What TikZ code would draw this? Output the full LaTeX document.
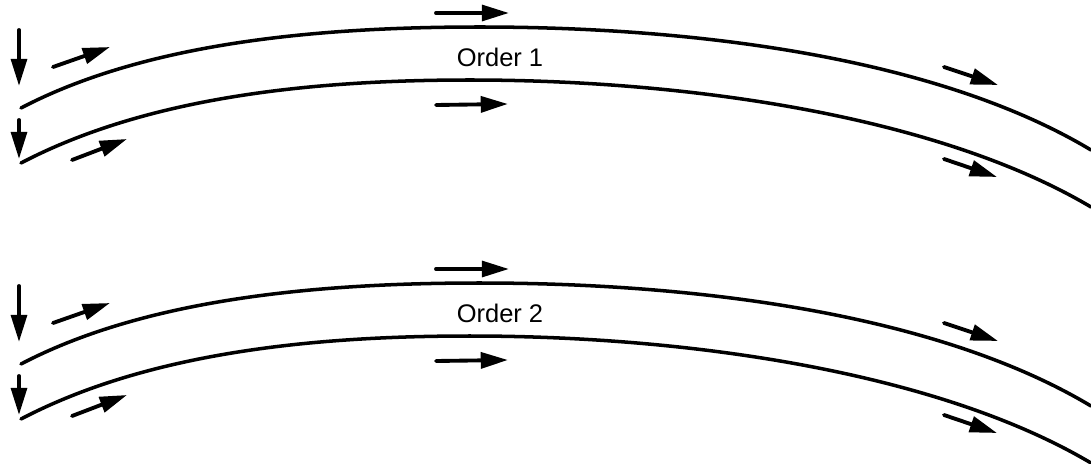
\documentclass[tikz,border=0pt]{standalone}
\usepackage{fontspec}
\setmainfont{Liberation Sans}
\usetikzlibrary{arrows.meta}
\begin{document}
\begin{tikzpicture}[x=0.02cm,y=-0.02cm,
  band/.style={line width=2pt, line cap=round},
  flow/.style={line width=2.2pt, line cap=round, -{Triangle[length=15.5pt,width=9pt]}},
  lbl/.style={font=\fontsize{14.5}{17}\selectfont, inner sep=0pt}]
\useasboundingbox (0,0) rectangle (1091,463);
\foreach \k/\dy in {1/0,2/256}{
\begin{scope}[yshift=-\dy*0.02cm]
  % band edges
  \draw[band] (21,108) .. controls (151,40) and (330,27) .. (480,27)
                       .. controls (705,27) and (941,60) .. (1091,150);
  \draw[band] (21,163) .. controls (151,95) and (320,80) .. (470,80)
                       .. controls (695,80) and (941,118) .. (1091,207);
  % arrows
  \coordinate (a1s\k) at (19,30);  \coordinate (a1e\k) at (19,86);
  \coordinate (a2s\k) at (19,120); \coordinate (a2e\k) at (19,159);
  \coordinate (a3s\k) at (53,67);  \coordinate (a3e\k) at (110,47);
  \coordinate (a4s\k) at (72,160); \coordinate (a4e\k) at (127,139);
  \coordinate (a5s\k) at (436,13); \coordinate (a5e\k) at (509,13);
  \coordinate (a6s\k) at (436,105);\coordinate (a6e\k) at (508,104);
  \coordinate (a7s\k) at (944,67); \coordinate (a7e\k) at (998,85);
  \coordinate (a8s\k) at (944,159);\coordinate (a8e\k) at (997,177);
  \foreach \i in {1,...,8}{\draw[flow] (a\i s\k) -- (a\i e\k);}
  \node[lbl] (t\k) at (500,57.5) {Order \k};
\end{scope}}
\end{tikzpicture}
\end{document}
